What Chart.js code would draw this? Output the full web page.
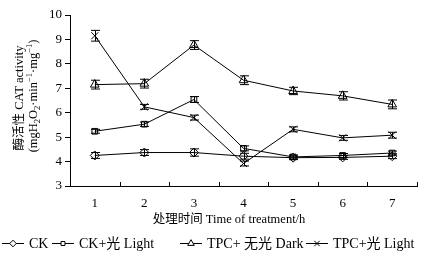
<!DOCTYPE html>
<html>
<head>
<meta charset="utf-8">
<script src="https://cdn.jsdelivr.net/npm/chart.js@4/dist/chart.umd.min.js"></script>
<style>
  html, body { margin: 0; padding: 0; background: #fff; }
  canvas { display: block; }
</style>
</head>
<body>
<canvas id="c" width="432" height="256"></canvas>
<script>
// values
const categories = ['1', '2', '3', '4', '5', '6', '7'];
const seriesNames = ['CK', 'CK+光 Light', 'TPC+ 无光 Dark', 'TPC+光 Light'];
const ck = [4.25, 4.37, 4.37, 4.22, 4.16, 4.17, 4.22];
const ckErr = [0.12, 0.12, 0.15, 0.12, 0.08, 0.08, 0.1];
const ckLight = [5.24, 5.53, 6.54, 4.54, 4.19, 4.25, 4.35];
const ckLightErr = [0.08, 0.09, 0.12, 0.1, 0.08, 0.08, 0.08];
const tpcDark = [7.15, 7.19, 8.77, 7.33, 6.89, 6.69, 6.34];
const tpcDarkErr = [0.18, 0.18, 0.18, 0.18, 0.15, 0.17, 0.18];
const tpcLight = [9.15, 6.24, 5.8, 3.92, 5.32, 4.97, 5.08];
const tpcLightErr = [0.22, 0.1, 0.1, 0.1, 0.1, 0.1, 0.12];
const yTicks = [3, 4, 5, 6, 7, 8, 9, 10];

const FONT = '"Liberation Serif", "Noto Sans CJK SC", serif';
const styles = ['rectRot', 'rect', 'triangle', 'crossRot'];
const radii = [4.5, 4, 5, 5];
const allValues = [ck, ckLight, tpcDark, tpcLight];
const allErrors = [ckErr, ckLightErr, tpcDarkErr, tpcLightErr];

const datasets = allValues.map((vals, i) => ({
  label: seriesNames[i],
  data: vals,
  errors: allErrors[i],
  borderColor: '#000',
  borderWidth: 1,
  pointStyle: styles[i],
  pointRadius: radii[i],
  pointBorderColor: '#000',
  pointBackgroundColor: 'rgba(0,0,0,0)',
  pointBorderWidth: 1,
  tension: 0
}));

// vertical error bars with caps
const errorBars = {
  id: 'errorBars',
  afterDatasetsDraw(chart) {
    const ctx = chart.ctx;
    const y = chart.scales.y;
    ctx.save();
    ctx.strokeStyle = '#000';
    ctx.lineWidth = 1;
    chart.data.datasets.forEach((ds, di) => {
      const meta = chart.getDatasetMeta(di);
      meta.data.forEach((pt, i) => {
        const v = ds.data[i], e = ds.errors[i];
        const x = Math.round(pt.x) + 0.5;
        const top = y.getPixelForValue(v + e);
        const bot = y.getPixelForValue(v - e);
        ctx.beginPath();
        ctx.moveTo(x, top); ctx.lineTo(x, bot);
        ctx.moveTo(x - 4.5, top); ctx.lineTo(x + 4.5, top);
        ctx.moveTo(x - 4.5, bot); ctx.lineTo(x + 4.5, bot);
        ctx.stroke();
      });
    });
    ctx.restore();
  }
};

// inward tick marks at category boundaries, titles and legend
const decorations = {
  id: 'decorations',
  afterDraw(chart) {
    const ctx = chart.ctx;
    const xs = chart.scales.x;
    const area = chart.chartArea;
    ctx.save();
    ctx.strokeStyle = '#000';
    ctx.lineWidth = 1;
    ctx.beginPath();
    for (let i = 1; i <= categories.length; i++) {
      const x = Math.round(xs.getPixelForValue(i - 0.5)) + 0.5;
      ctx.moveTo(x, area.bottom);
      ctx.lineTo(x, area.bottom - 4);
    }
    ctx.stroke();

    ctx.fillStyle = '#000';
    ctx.textBaseline = 'middle';

    // x title
    ctx.font = '12.5px ' + FONT;
    ctx.textAlign = 'center';
    ctx.fillText('处理时间 Time of treatment/h', 229, 220);

    // y title, two rotated lines
    const drawRich = (parts, cx, cy) => {
      ctx.save();
      ctx.translate(cx, cy);
      ctx.rotate(-Math.PI / 2);
      ctx.textAlign = 'left';
      let total = 0;
      parts.forEach(p => { ctx.font = p[1] + 'px ' + FONT; total += ctx.measureText(p[0]).width; });
      let x = -total / 2;
      parts.forEach(p => {
        ctx.font = p[1] + 'px ' + FONT;
        ctx.fillText(p[0], x, p[2]);
        x += ctx.measureText(p[0]).width;
      });
      ctx.restore();
    };
    drawRich([['酶活性 CAT activity', 12.5, 0]], 20, 98);
    drawRich([
      ['(mgH', 12.5, 0], ['2', 8.5, 4], ['O', 12.5, 0], ['2', 8.5, 4],
      ['·min', 12.5, 0], ['−1', 8.5, -4], ['·mg', 12.5, 0], ['−1', 8.5, -4], [')', 12.5, 0]
    ], 34, 96);

    // legend: line sample with marker, then label
    const ly = 243;
    const starts = [2, 52, 180, 306];
    ctx.textAlign = 'left';
    seriesNames.forEach((name, i) => {
      const lx = starts[i];
      ctx.beginPath();
      ctx.moveTo(lx, ly + 0.5);
      ctx.lineTo(lx + 22, ly + 0.5);
      ctx.stroke();
      ctx.fillStyle = '#fff';
      Chart.helpers.drawPoint(ctx, { pointStyle: styles[i], radius: radii[i] - 1.2, borderWidth: 1, rotation: 0 }, lx + 11, ly + 0.5);
      ctx.fillStyle = '#000';
      ctx.font = '14px ' + FONT;
      ctx.fillText(name, lx + 27, ly + 1);
    });
    ctx.restore();
  }
};

new Chart(document.getElementById('c'), {
  type: 'line',
  data: { labels: categories, datasets: datasets },
  options: {
    responsive: false,
    animation: false,
    layout: { padding: { left: 0, right: 15, top: 15, bottom: 0 } },
    plugins: { legend: { display: false }, tooltip: { enabled: false } },
    scales: {
      x: {
        offset: true,
        grid: { display: false },
        border: { display: true, color: '#000', width: 1 },
        ticks: { color: '#000', font: { family: FONT, size: 13 }, padding: 2, maxRotation: 0 },
        afterFit(scale) { scale.height = 70; }
      },
      y: {
        min: 3,
        max: 10,
        afterBuildTicks(scale) { scale.ticks = yTicks.map(v => ({ value: v })); },
        grid: { drawOnChartArea: false, drawTicks: true, tickLength: 5, color: '#000' },
        border: { display: true, color: '#000', width: 1 },
        ticks: { color: '#000', font: { family: FONT, size: 13 }, padding: 3 },
        afterFit(scale) { scale.width = 70; }
      }
    }
  },
  plugins: [errorBars, decorations]
});
</script>
</body>
</html>
